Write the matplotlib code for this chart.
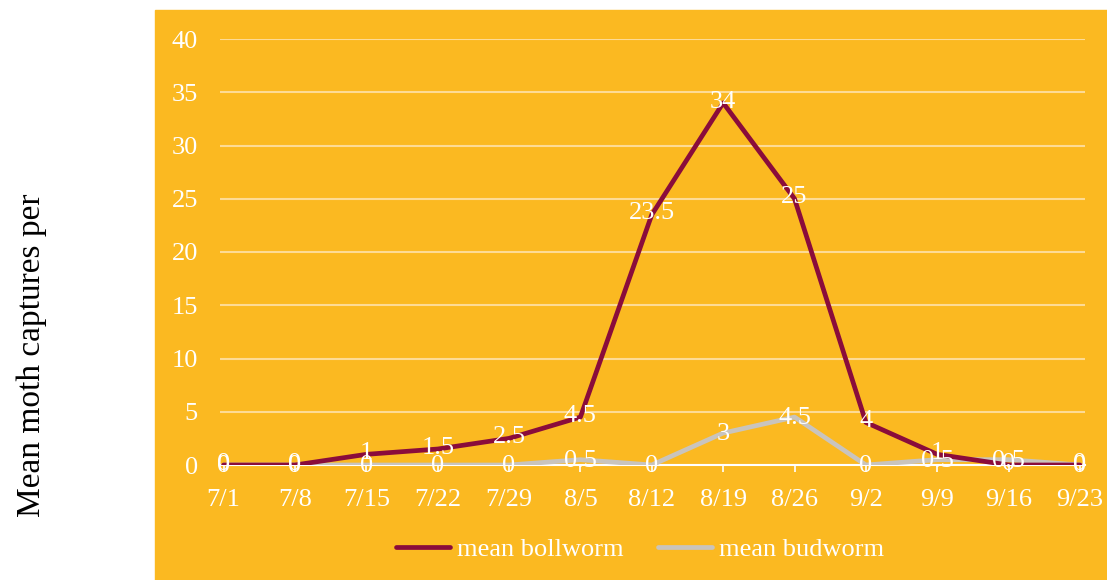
import numpy as np
import matplotlib.pyplot as plt
from matplotlib.patches import Rectangle

dates = ["7/1", "7/8", "7/15", "7/22", "7/29", "8/5", "8/12",
         "8/19", "8/26", "9/2", "9/9", "9/16", "9/23"]
bollworm = [0, 0, 1, 1.5, 2.5, 4.5, 23.5, 34, 25, 4, 1, 0, 0]
budworm = [0, 0, 0, 0, 0, 0.5, 0, 3, 4.5, 0, 0.5, 0.5, 0]

bg = "#FBB921"
maroon = "#8A0C3B"
grey = "#C9C4BD"
grid_c = "#FDDB95"

plt.rcParams["font.family"] = ["Liberation Serif", "DejaVu Serif"]

fig = plt.figure(figsize=(11.07, 5.8), dpi=100)
fig.patches.append(Rectangle((155 / 1107, 0), 1 - 155 / 1107, 1 - 10 / 580,
                             transform=fig.transFigure, color=bg, zorder=-10))
ax = fig.add_axes([220 / 1107, 1 - 465 / 580, 865 / 1107, 426 / 580])
ax.set_facecolor("none")

x = np.arange(len(dates))
ax.plot(x, budworm, color=grey, lw=3.4, label="mean budworm", zorder=3,
        solid_joinstyle="round", solid_capstyle="round")
ax.plot(x, bollworm, color=maroon, lw=3.4, label="mean bollworm", zorder=4,
        solid_joinstyle="round", solid_capstyle="round")

def fmt(v):
    return str(int(v)) if float(v).is_integer() else str(v)

for xi, v in zip(x, bollworm):
    ax.annotate(fmt(v), (xi, v), xytext=(0, 1), textcoords="offset points",
                ha="center", va="center", color="white", fontsize=19, zorder=6)
for xi, v in zip(x, budworm):
    ax.annotate(fmt(v), (xi, v), xytext=(0, -1), textcoords="offset points",
                ha="center", va="center", color="white", fontsize=19, zorder=5)

ax.set_xlim(-0.05, 12.07)
ax.set_ylim(0, 40)
ax.set_yticks(range(0, 41, 5))
ax.set_xticks(x)
ax.set_xticklabels(dates)
ax.grid(axis="y", color=grid_c, lw=1.5, zorder=1)
for s in ["top", "right", "left"]:
    ax.spines[s].set_visible(False)
ax.spines["bottom"].set_color("white")
ax.spines["bottom"].set_linewidth(1.5)
ax.tick_params(axis="y", length=0, pad=16, labelsize=19, labelcolor="white")
ax.tick_params(axis="x", length=5, width=1.2, color="white", pad=12,
               labelsize=19, labelcolor="white")

fig.text(32 / 1107, 1 - 355 / 580, "Mean moth captures per", rotation=90,
         ha="center", va="center", fontsize=24, color="black")

h, l = ax.get_legend_handles_labels()
leg = ax.legend(h[::-1], l[::-1], loc="center", bbox_to_anchor=(640 / 1107, 1 - 549 / 580),
                bbox_transform=fig.transFigure, ncol=2, frameon=False,
                fontsize=19, labelcolor="white", handlelength=2.05,
                handletextpad=0.25, columnspacing=1.3)

fig.savefig("out.png", dpi=100)
